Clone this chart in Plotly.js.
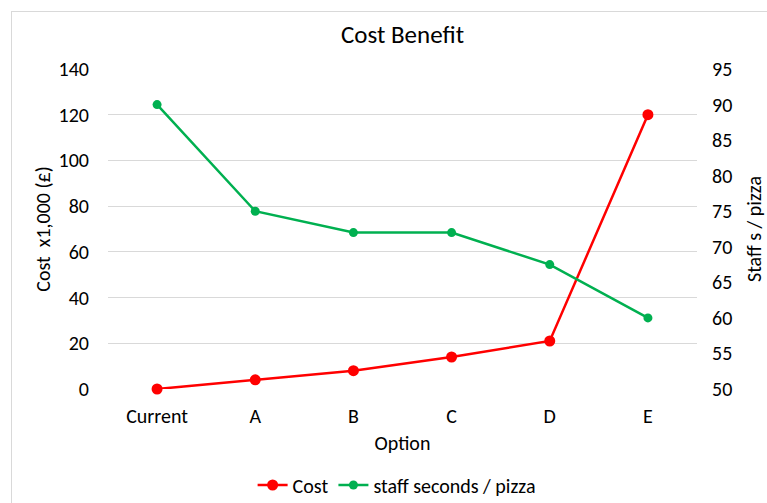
<!DOCTYPE html>
<html><head><meta charset="utf-8">
<script src="https://cdn.plot.ly/plotly-3.0.1.min.js"></script>
<style>
html,body{margin:0;padding:0;background:#fff;}
#frame{position:absolute;left:11px;top:11px;width:800px;height:600px;border-left:1px solid #d9d9d9;border-top:1px solid #d9d9d9;}
#chart{position:absolute;left:0;top:0;width:767px;height:503px;}
</style></head>
<body>
<div id="frame"></div>
<div id="chart"></div>
<script>
const categories = ["Current","A","B","C","D","E"];
const cost = [0, 4, 8, 14, 21, 120];
const staffSeconds = [90, 75, 72, 72, 67.5, 60];
const FONT = "Carlito, Calibri, Lato, 'Liberation Sans', sans-serif";

const traces = [
  {x: categories, y: cost, name: "Cost", type: "scatter", mode: "lines+markers", cliponaxis: false,
   line: {color: "#FF0000", width: 2.5}, marker: {color: "#FF0000", size: 11}, yaxis: "y"},
  {x: categories, y: staffSeconds, name: "staff seconds / pizza", type: "scatter", mode: "lines+markers", cliponaxis: false,
   line: {color: "#00B050", width: 2.5}, marker: {color: "#00B050", size: 9}, yaxis: "y2"}
];

const layout = {
  width: 767, height: 503,
  paper_bgcolor: "rgba(0,0,0,0)", plot_bgcolor: "rgba(0,0,0,0)",
  margin: {l: 108, r: 70, t: 69, b: 114},
  font: {family: FONT, size: 20, color: "#000"},
  title: {text: "Cost Benefit", font: {family: FONT, size: 25, color: "#000"}, x: 0.5, xref: "paper", y: 1 - 34/503, yanchor: "middle"},
  showlegend: true,
  legend: {orientation: "h", x: 0.49, xanchor: "center", xref: "paper", yref: "container", y: 1 - 485/503, yanchor: "middle",
           font: {family: FONT, size: 20}, itemwidth: 30, tracegroupgap: 0},
  xaxis: {type: "category", range: [-0.5, 5.5], showgrid: false, zeroline: false, showline: false, ticks: "", automargin: false,
          tickfont: {family: FONT, size: 20}, ticklabelstandoff: 13,
          title: {text: "Option", font: {family: FONT, size: 20}, standoff: 8}},
  yaxis: {range: [0, 140], tickvals: [0,20,40,60,80,100,120,140], showgrid: true, gridcolor: "#d9d9d9", gridwidth: 1, automargin: false,
          zeroline: false, showline: false, ticks: "", tickfont: {family: FONT, size: 20}, ticklabelstandoff: 18,
          title: {text: "Cost  x1,000 (£)", font: {family: FONT, size: 20}, standoff: 2}},
  yaxis2: {range: [50, 95], tickvals: [50,55,60,65,70,75,80,85,90,95], overlaying: "y", side: "right", showgrid: false, automargin: false,
           zeroline: false, showline: false, ticks: "", tickfont: {family: FONT, size: 20}, ticklabelstandoff: 14,
           title: {text: "Staff s / pizza", font: {family: FONT, size: 20}, standoff: 15}}
};
Plotly.newPlot("chart", traces, layout, {displayModeBar: false, staticPlot: true});
</script>
</body></html>
